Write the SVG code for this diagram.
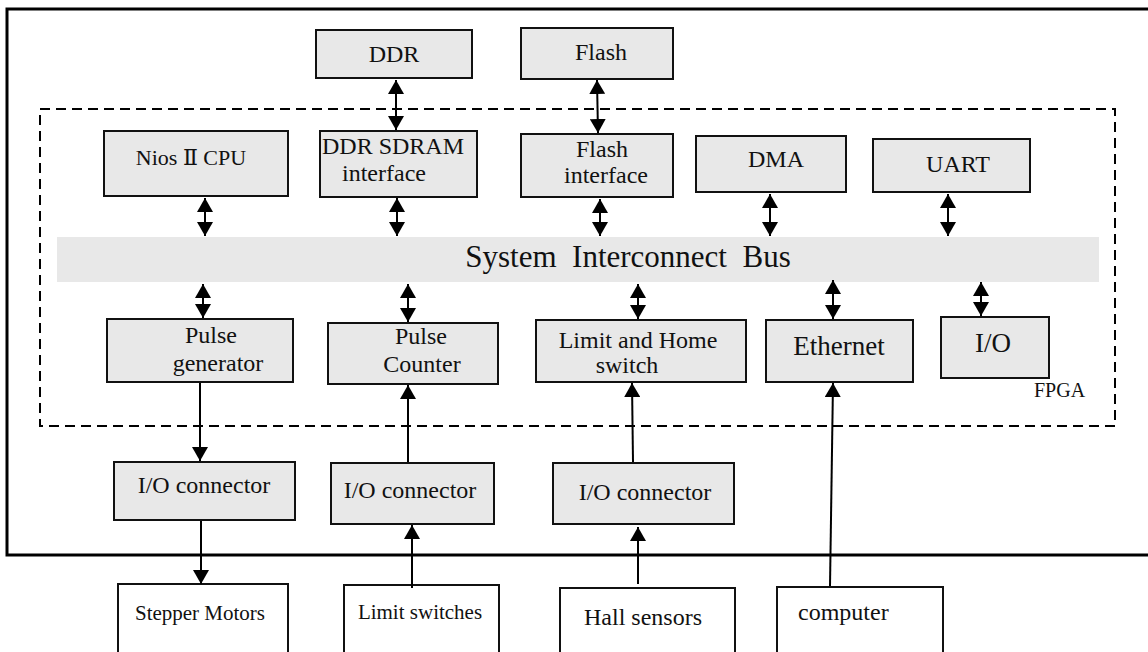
<svg xmlns="http://www.w3.org/2000/svg" width="1148" height="652" viewBox="0 0 1148 652">
<defs>
<style>
.box{fill:#e8e8e8;stroke:#111;stroke-width:2}
.wbox{fill:#fff;stroke:#111;stroke-width:2}
text{font-family:"Liberation Serif","Times New Roman","DejaVu Serif",serif;fill:#111;text-anchor:middle;font-size:24px}
.c line{stroke:#000;stroke-width:2}
</style>
<marker id="ah" markerUnits="userSpaceOnUse" markerWidth="14" markerHeight="16" viewBox="0 0 14 16" refX="14" refY="8" orient="auto-start-reverse">
<path d="M0,0 L14,8 L0,16 z" fill="#000"/>
</marker>
</defs>
<rect width="1148" height="652" fill="#fff"/>
<g id="board"><rect x="7" y="9" width="1150" height="546" fill="none" stroke="#000" stroke-width="3"/></g>
<g id="fpga">
<rect x="40" y="109" width="1075" height="317" fill="none" stroke="#000" stroke-width="2" stroke-dasharray="10,6"/>
<text x="1034" y="397" style="text-anchor:start;font-size:20px">FPGA</text>
</g>
<g id="bus"><rect x="57" y="237" width="1042" height="45" fill="#e8e8e8"/>
<text x="628" y="267" style="font-size:31px;white-space:pre" xml:space="preserve">System  Interconnect  Bus</text></g>
<g id="ddr"><rect class="box" x="316" y="30" width="156" height="48"/><text x="394" y="62">DDR</text></g>
<g id="flash"><rect class="box" x="521" y="28" width="152" height="51"/><text x="601" y="60">Flash</text></g>
<g id="nios"><rect class="box" x="104" y="131" width="184" height="65"/><text x="191" y="165" style="font-size:22px">Nios Ⅱ CPU</text></g>
<g id="sdram"><rect class="box" x="320" y="131" width="157" height="66"/><text x="393" y="154">DDR SDRAM</text><text x="384" y="181">interface</text></g>
<g id="flashif"><rect class="box" x="521" y="134" width="152" height="63"/><text x="602" y="157">Flash</text><text x="606" y="183">interface</text></g>
<g id="dma"><rect class="box" x="696" y="136" width="150" height="56"/><text x="776" y="167">DMA</text></g>
<g id="uart"><rect class="box" x="873" y="139" width="157" height="53"/><text x="958" y="172">UART</text></g>
<g id="pulsegen"><rect class="box" x="107" y="319" width="186" height="63"/><text x="211" y="343">Pulse</text><text x="218" y="371">generator</text></g>
<g id="pulsecnt"><rect class="box" x="328" y="323" width="170" height="61"/><text x="421" y="344">Pulse</text><text x="422" y="372">Counter</text></g>
<g id="limit"><rect class="box" x="536" y="320" width="210" height="62"/><text x="638" y="348">Limit and Home</text><text x="627" y="373">switch</text></g>
<g id="ethernet"><rect class="box" x="766" y="320" width="147" height="62"/><text x="839" y="355" style="font-size:27px">Ethernet</text></g>
<g id="io"><rect class="box" x="941" y="317" width="108" height="61"/><text x="993" y="352" style="font-size:27px">I/O</text></g>
<g id="ioc1"><rect class="box" x="114" y="462" width="181" height="58"/><text x="204" y="493">I/O connector</text></g>
<g id="ioc2"><rect class="box" x="331" y="463" width="163" height="61"/><text x="410" y="498">I/O connector</text></g>
<g id="ioc3"><rect class="box" x="553" y="463" width="181" height="61"/><text x="645" y="500">I/O connector</text></g>
<g id="stepper"><rect class="wbox" x="118" y="584" width="170" height="80"/><text x="200" y="620" style="font-size:21px">Stepper Motors</text></g>
<g id="limitsw"><rect class="wbox" x="344" y="585" width="155" height="80"/><text x="420" y="619" style="font-size:21px">Limit switches</text></g>
<g id="hall"><rect class="wbox" x="560" y="588" width="175" height="80"/><text x="643" y="625">Hall sensors</text></g>
<g id="computer"><rect class="wbox" x="777" y="587" width="166" height="80"/><text x="798" y="620" style="text-anchor:start">computer</text></g>
<g id="connectors" class="c">
<line x1="396" y1="80" x2="396" y2="130" marker-start="url(#ah)" marker-end="url(#ah)"/>
<line x1="597" y1="80" x2="598" y2="133" marker-start="url(#ah)" marker-end="url(#ah)"/>
<line x1="205" y1="198" x2="205" y2="236" marker-start="url(#ah)" marker-end="url(#ah)"/>
<line x1="397" y1="198" x2="397" y2="236" marker-start="url(#ah)" marker-end="url(#ah)"/>
<line x1="600" y1="199" x2="600" y2="236" marker-start="url(#ah)" marker-end="url(#ah)"/>
<line x1="770" y1="194" x2="770" y2="236" marker-start="url(#ah)" marker-end="url(#ah)"/>
<line x1="948" y1="194" x2="948" y2="236" marker-start="url(#ah)" marker-end="url(#ah)"/>
<line x1="203" y1="284" x2="203" y2="318" marker-start="url(#ah)" marker-end="url(#ah)"/>
<line x1="408" y1="284" x2="408" y2="322" marker-start="url(#ah)" marker-end="url(#ah)"/>
<line x1="638" y1="284" x2="638" y2="319" marker-start="url(#ah)" marker-end="url(#ah)"/>
<line x1="833" y1="280" x2="833" y2="319" marker-start="url(#ah)" marker-end="url(#ah)"/>
<line x1="981" y1="282" x2="981" y2="316" marker-start="url(#ah)" marker-end="url(#ah)"/>
<line x1="200" y1="383" x2="200" y2="461" marker-end="url(#ah)"/>
<line x1="201" y1="521" x2="201" y2="584" marker-end="url(#ah)"/>
<line x1="412" y1="588" x2="412" y2="525" marker-end="url(#ah)"/>
<line x1="408" y1="462" x2="408" y2="385" marker-end="url(#ah)"/>
<line x1="638" y1="584" x2="638" y2="527" marker-end="url(#ah)"/>
<line x1="633" y1="462" x2="632" y2="383" marker-end="url(#ah)"/>
<line x1="830" y1="586" x2="833" y2="383" marker-end="url(#ah)"/>
</g>
</svg>
